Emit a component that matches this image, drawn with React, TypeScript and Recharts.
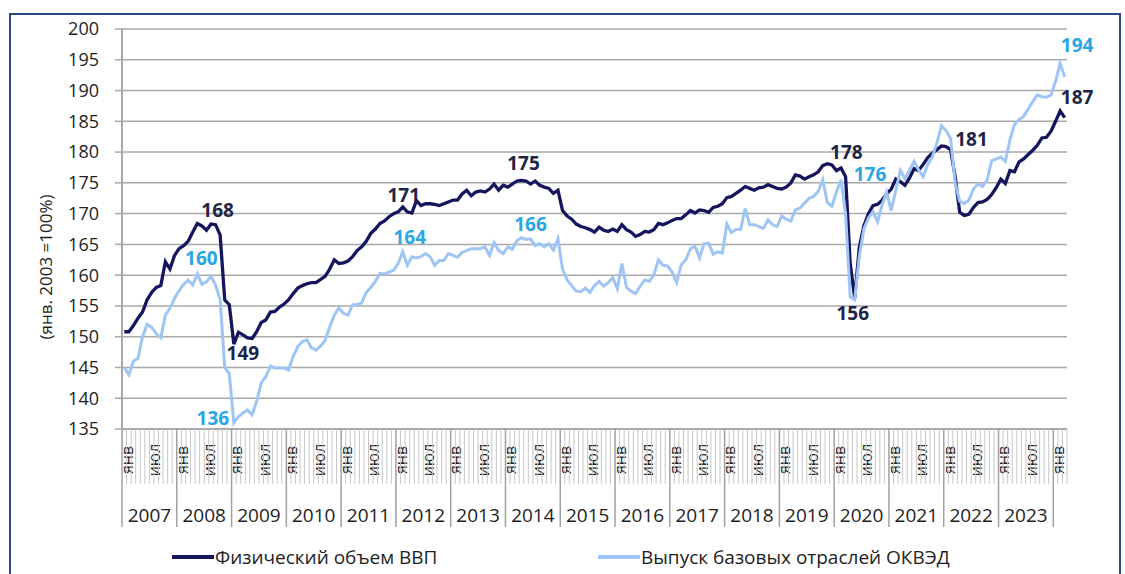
import React from "react";
import { LineChart, Line, XAxis, YAxis, CartesianGrid, LabelList, Label } from "recharts";

const years = [2007, 2008, 2009, 2010, 2011, 2012, 2013, 2014, 2015, 2016, 2017, 2018, 2019, 2020, 2021, 2022, 2023];
const monthTags = ["янв", "", "", "", "", "", "июл", "", "", "", "", ""];
const yTicks = [135, 140, 145, 150, 155, 160, 165, 170, 175, 180, 185, 190, 195, 200];

// Физический объем ВВП, янв 2007 – мар 2024
const gdpVolume = [
  150.8, 150.8, 151.8, 153.0, 154.0, 156.0, 157.2, 158.0, 158.3, 162.2, 161.0, 163.2,
  164.3, 164.8, 165.5, 167.0, 168.4, 168.0, 167.3, 168.3, 168.2, 166.5, 156.0, 155.2,
  148.8, 150.7, 150.3, 149.8, 149.7, 150.8, 152.3, 152.7, 154.0, 154.1, 154.8, 155.3,
  156.0, 157.0, 157.9, 158.3, 158.6, 158.8, 158.8, 159.3, 159.8, 161.0, 162.5, 161.9,
  162.0, 162.3, 163.0, 164.0, 164.6, 165.5, 166.8, 167.5, 168.4, 168.8, 169.5, 170.0,
  170.3, 171.1, 170.3, 170.1, 172.1, 171.3, 171.6, 171.6, 171.5, 171.3, 171.6, 171.9,
  172.2, 172.2, 173.2, 173.8, 172.9, 173.5, 173.7, 173.5, 174.0, 174.8, 173.8, 174.6,
  174.3, 174.8, 175.3, 175.4, 175.3, 174.8, 175.3, 174.6, 174.3, 174.1, 173.3, 173.8,
  170.5, 169.6, 169.1, 168.3, 167.9, 167.7, 167.4, 167.0, 167.8, 167.3, 167.1, 167.5,
  167.1, 168.2, 167.4, 167.0, 166.3, 166.6, 167.1, 167.0, 167.4, 168.4, 168.2, 168.5,
  168.9, 169.2, 169.2, 169.8, 170.5, 170.1, 170.6, 170.5, 170.2, 171.0, 171.2, 171.6,
  172.6, 172.8, 173.3, 173.8, 174.4, 174.1, 173.8, 174.2, 174.3, 174.7, 174.4, 174.1,
  174.0, 174.3, 175.0, 176.3, 176.1, 175.6, 176.0, 176.3, 176.8, 177.8, 178.1, 177.9,
  177.0, 177.4, 176.0, 162.0, 156.3, 164.5, 168.0, 170.0, 171.3, 171.5, 172.2, 173.2,
  174.0, 175.6, 175.2, 174.6, 175.8, 177.3, 177.0, 178.0, 179.1, 179.8, 180.4, 181.0,
  180.9, 180.4, 176.0, 170.2, 169.7, 169.9, 171.0, 171.8, 171.9, 172.3, 173.1, 174.2,
  175.6, 174.9, 177.0, 176.8, 178.4, 178.9, 179.6, 180.3, 181.1, 182.3, 182.4, 183.4,
  185.0, 186.7, 185.6,
];

// Выпуск базовых отраслей ОКВЭД
const baseOutput = [
  145.0, 143.8, 146.0, 146.5, 150.0, 152.0, 151.5, 150.5, 149.8, 153.5, 154.6, 156.2,
  157.5, 158.5, 159.2, 158.4, 160.2, 158.5, 158.9, 159.8, 158.4, 156.0, 145.0, 144.0,
  136.0, 137.0, 137.6, 138.1, 137.3, 139.5, 142.5, 143.5, 145.2, 144.9, 144.9, 144.9,
  144.6, 146.8, 148.4, 149.2, 149.5, 148.2, 147.8, 148.5, 149.4, 151.6, 153.5, 154.7,
  153.8, 153.5, 155.2, 155.2, 155.5, 157.2, 158.0, 159.0, 160.3, 160.2, 160.5, 160.8,
  161.9, 163.8, 161.6, 163.0, 162.8, 163.0, 163.5, 163.0, 161.6, 162.4, 162.4, 163.5,
  163.2, 162.9, 163.7, 164.0, 164.3, 164.3, 164.3, 164.6, 163.2, 165.3, 164.0, 163.5,
  164.6, 164.2, 165.6, 166.1, 165.8, 165.9, 164.8, 165.1, 164.6, 165.1, 164.1, 165.9,
  161.0, 159.2, 158.3, 157.4, 157.3, 157.9, 157.2, 158.3, 159.0, 158.2, 158.8, 159.6,
  157.8, 161.9, 158.0, 157.4, 157.0, 158.2, 159.2, 159.0, 160.0, 162.5, 161.6, 161.5,
  160.5, 158.8, 161.7, 162.5, 164.3, 164.7, 162.8, 165.1, 165.2, 163.4, 163.8, 163.6,
  168.3, 166.9, 167.4, 167.4, 170.8, 168.2, 168.2, 167.9, 167.6, 169.0, 168.2, 167.9,
  169.6, 169.1, 168.8, 170.6, 170.9, 171.7, 172.5, 172.8, 173.6, 175.5, 171.8, 171.2,
  173.5, 175.5, 170.0, 156.5, 156.0, 163.0, 167.5, 169.3, 170.3, 168.7, 171.4, 173.5,
  170.5, 173.8, 177.0, 175.7, 177.0, 178.5, 177.1, 176.0, 178.0, 179.2, 181.5, 184.3,
  183.5, 182.2, 175.0, 172.0, 171.6, 172.2, 174.0, 174.8, 174.4, 175.5, 178.6, 178.9,
  179.2, 178.5, 182.0, 184.5, 185.3, 185.8, 187.0, 188.2, 189.3, 189.0, 188.9, 189.3,
  191.5, 194.4, 192.2,
];

// months that carry a value label
const gdpLabelAt = [20, 24, 61, 87, 154, 160, 179, 205];
const baseLabelAt = [16, 24, 61, 87, 157, 205];

const data = gdpVolume.map((v, i) => ({ idx: i, gdp: v, base: baseOutput[i] }));
const N = data.length;

const W = 1125;
const H = 574;
const PLOT_LEFT = 122;
const PLOT_RIGHT = 1067;
const BAND = (PLOT_RIGHT - PLOT_LEFT) / N;

const DARK = "#15155e";
const LIGHT = "#9ec5f4";
const DARK_TEXT = "#1c2547";
const LIGHT_TEXT = "#29a6e4";
const GRID = "#a9a9a9";
const INK = "#1e1e1e";
const FONT = "'Open Sans', sans-serif";

// label nudges (px) relative to the point
const gdpNudge: Record<number, [number, number]> = {
  20: [2, -15], 24: [9, 9], 61: [1, -12], 87: [2, -17],
  154: [19, -12], 160: [-2, 15], 179: [30, -7], 205: [17, -14],
};
const baseNudge: Record<number, [number, number]> = {
  16: [4, -16], 24: [-21, -5], 61: [7, -15], 87: [9, -14], 157: [29, -6], 205: [17, -18],
};

const makeLabel = (at: number[], nudge: Record<number, [number, number]>, color: string) =>
  (props: any) => {
    const { x, y, value, index } = props;
    if (!at.includes(index)) return null;
    const [dx, dy] = nudge[index];
    return (
      <text x={x + dx} y={y + dy} textAnchor="middle" dominantBaseline="central"
        fontSize={19} fontWeight={700} fill={color} fontFamily={FONT}>
        {Math.round(value)}
      </text>
    );
  };

const MonthTick = (props: any) => {
  const { x, y, payload } = props;
  const i = payload.value as number;
  const m = i % 12;
  const left = x - BAND / 2;
  const isYear = m === 0;
  const year = years[Math.floor(i / 12)];
  return (
    <g>
      <line x1={left} x2={left} y1={y} y2={y + (isYear ? 98 : 55)}
        stroke={isYear ? "#a0a0a0" : "#c6c6c6"} strokeWidth={isYear ? 1.5 : 1} />
      {i === N - 1 && (
        <line x1={x + BAND / 2} x2={x + BAND / 2} y1={y} y2={y + 55} stroke="#c6c6c6" strokeWidth={1} />
      )}
      {monthTags[m] && (
        <text transform={`translate(${x + 2.5},${y + 31}) rotate(-90)`} textAnchor="middle"
          dominantBaseline="central" fontSize={16} fill={INK} fontFamily={FONT}>
          {monthTags[m]}
        </text>
      )}
      {isYear && year && (
        <text x={left + 6 * BAND} y={y + 86} textAnchor="middle" dominantBaseline="central"
          fontSize={19} fill={INK} fontFamily={FONT}>
          {year}
        </text>
      )}
    </g>
  );
};

const LegendItem = ({ left, color, text }: { left: number; color: string; text: string }) => (
  <div style={{ position: "absolute", left, top: 545, display: "flex", alignItems: "center", height: 24 }}>
    <div style={{ width: 42, height: 4, background: color }} />
    <span style={{ fontSize: 19, color: INK, fontFamily: FONT, marginLeft: 1, whiteSpace: "nowrap" }}>{text}</span>
  </div>
);

export default function App() {
  return (
    <div style={{ position: "absolute", left: 0, top: 0, width: W, height: H, background: "#fff", overflow: "hidden" }}>
      <div style={{ position: "absolute", left: 9, top: 13, width: 1108, height: 600, border: "2px solid #2c4a80" }} />
      <LineChart width={W} height={H} data={data}
        margin={{ top: 29, right: W - PLOT_RIGHT, left: 22, bottom: 35 }}
        style={{ fontFamily: FONT }}>
        <CartesianGrid vertical={false} stroke={GRID} strokeWidth={1.5} />
        <XAxis type="number" dataKey="idx" domain={[-0.5, N - 0.5]} ticks={data.map((d) => d.idx)}
          interval={0} tickSize={0} tickMargin={0} height={110} tick={<MonthTick />}
          axisLine={{ stroke: GRID, strokeWidth: 2 }} allowDataOverflow />
        <YAxis type="number" domain={[135, 200]} ticks={yTicks} interval={0} width={100}
          tickSize={7} tickMargin={16} tickLine={{ stroke: GRID, strokeWidth: 1.5 }}
          axisLine={{ stroke: GRID, strokeWidth: 2 }}
          tick={{ fill: INK, fontSize: 18, fontFamily: FONT }}>
          <Label content={(p: any) => {
            const vb = p.viewBox;
            const cx = vb.x + 23;
            const cy = vb.y + vb.height / 2 + 38;
            return (
              <text transform={`translate(${cx},${cy}) rotate(-90)`} textAnchor="middle"
                dominantBaseline="central" fontSize={17} fill={INK} fontFamily={FONT}>
                (янв. 2003 =100%)
              </text>
            );
          }} />
        </YAxis>
        <Line type="linear" dataKey="gdp" stroke={DARK} strokeWidth={3.3} dot={false} isAnimationActive={false}>
          <LabelList dataKey="gdp" content={makeLabel(gdpLabelAt, gdpNudge, DARK_TEXT)} />
        </Line>
        <Line type="linear" dataKey="base" stroke={LIGHT} strokeWidth={3} dot={false} isAnimationActive={false}>
          <LabelList dataKey="base" content={makeLabel(baseLabelAt, baseNudge, LIGHT_TEXT)} />
        </Line>
      </LineChart>
      <LegendItem left={172} color={DARK} text="Физический объем ВВП" />
      <LegendItem left={598} color={LIGHT} text="Выпуск базовых отраслей ОКВЭД" />
    </div>
  );
}
